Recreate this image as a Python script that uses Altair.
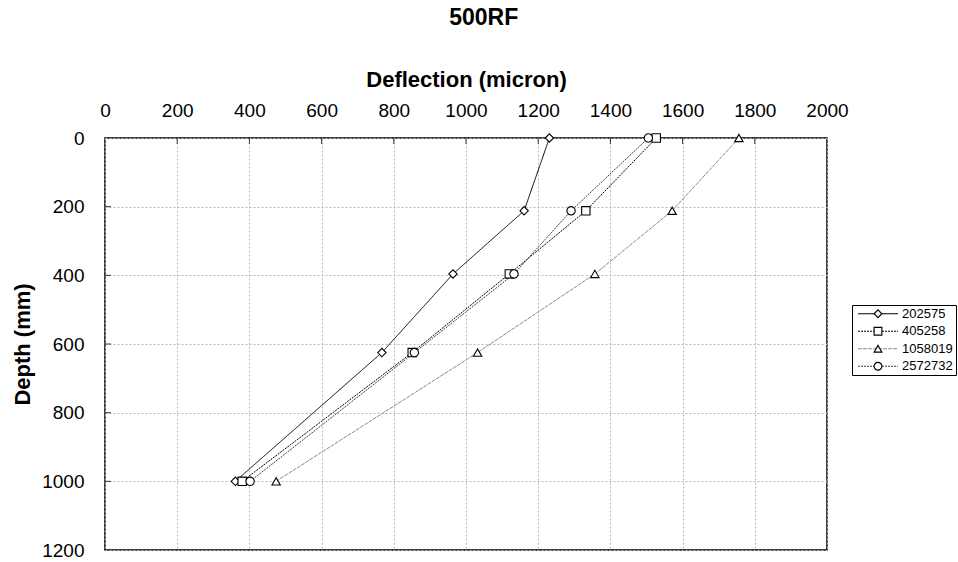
import altair as alt
import pandas as pd

# ---- data ----
series_names = ["202575", "405258", "1058019", "2572732"]
depth_mm = [0, 212, 396, 625, 1000]
defl_202575 = [1231, 1161, 964, 767, 361]
defl_405258 = [1527, 1332, 1120, 851, 380]
defl_1058019 = [1756, 1571, 1357, 1032, 474]
defl_2572732 = [1505, 1291, 1133, 857, 402]
x_tick_values = [0, 200, 400, 600, 800, 1000, 1200, 1400, 1600, 1800, 2000]
y_tick_values = [0, 200, 400, 600, 800, 1000, 1200]

rows = []
for name, vals in zip(series_names, [defl_202575, defl_405258, defl_1058019, defl_2572732]):
    for d, v in zip(depth_mm, vals):
        rows.append({"series": name, "depth": d, "deflection": v})
df = pd.DataFrame(rows)

FONT = "Liberation Sans"
line_colors = ["#000000", "#000000", "#8a8a8a", "#404040"]
line_dashes = [[1, 0], [2, 1], [4, 1], [2, 1]]
shapes = ["diamond", "square", "triangle-up", "circle"]

color_enc = alt.Color("series:N", scale=alt.Scale(domain=series_names, range=line_colors), legend=None)
dash_enc = alt.StrokeDash("series:N", scale=alt.Scale(domain=series_names, range=line_dashes), legend=None)
shape_enc = alt.Shape("series:N", scale=alt.Scale(domain=series_names, range=shapes), legend=None)

xscale = alt.Scale(domain=[0, 2000], nice=False, zero=False)
yscale = alt.Scale(domain=[0, 1200], reverse=True, nice=False, zero=False)

x_axis = alt.Axis(orient="top", values=x_tick_values, title="Deflection (micron)", grid=True, format="d",
                  ticks=False, tickSize=0, domain=False, labelPadding=18, titlePadding=10,
                  gridDash=[2, 2], gridColor="#b8b8b8", labelFlush=False)
y_axis = alt.Axis(orient="left", values=y_tick_values, title="Depth (mm)", grid=True, format="d",
                  ticks=False, tickSize=0, domain=False, labelPadding=21, titlePadding=7,
                  gridDash=[2, 2], gridColor="#b8b8b8", labelFlush=False)

X = alt.X("deflection:Q", scale=xscale, axis=x_axis, title="Deflection (micron)")
Y = alt.Y("depth:Q", scale=yscale, axis=y_axis, title="Depth (mm)")

base = alt.Chart(df)
lines = base.mark_line(strokeWidth=1).encode(
    x=X, y=Y, color=color_enc, strokeDash=dash_enc, detail="series:N", order="depth:Q"
)
points = base.mark_point(filled=True, fill="white", stroke="black", strokeWidth=1.1,
                         size=70, opacity=1, fillOpacity=1).encode(
    x=X, y=Y, shape=shape_enc
)

xt = alt.Chart(pd.DataFrame({"t": x_tick_values[1:-1]})).mark_rule(color="#333333", strokeWidth=1).encode(
    x=alt.X("t:Q", scale=xscale, axis=x_axis, title="Deflection (micron)"),
    y=alt.value(0), y2=alt.value(6)
)
yt = alt.Chart(pd.DataFrame({"t": y_tick_values[1:-1]})).mark_rule(color="#333333", strokeWidth=1).encode(
    y=alt.Y("t:Q", scale=yscale, axis=y_axis, title="Depth (mm)"),
    x=alt.value(0), x2=alt.value(6)
)

main = alt.layer(lines, points, xt, yt).properties(
    width=722, height=412,
    view=alt.ViewBackground(stroke="black", strokeWidth=1.5)
)

# ---- legend panel ----
leg_df = pd.DataFrame({"series": series_names})
leg_y = alt.Y("series:N", sort=series_names,
              scale=alt.Scale(type="point", domain=series_names, padding=0.5), axis=None)
leg_lines = alt.Chart(leg_df).mark_rule(strokeWidth=1).encode(
    x=alt.value(6), x2=alt.value(46), y=leg_y, color=color_enc, strokeDash=dash_enc
)
leg_points = alt.Chart(leg_df).mark_point(filled=True, fill="white", stroke="black", strokeWidth=1.1,
                                          size=60, opacity=1, fillOpacity=1).encode(
    x=alt.value(26), y=leg_y, shape=shape_enc
)
leg_text = alt.Chart(leg_df).mark_text(align="left", baseline="middle", fontSize=13, font=FONT,
                                       color="black").encode(
    x=alt.value(50), y=leg_y, text="series:N"
)
legend = alt.layer(leg_lines, leg_points, leg_text).properties(
    width=104, height=70,
    view=alt.ViewBackground(stroke="black", strokeWidth=1)
)

spacer = alt.Chart(pd.DataFrame({"a": [0]})).mark_point(opacity=0).encode(
    x=alt.value(0), y=alt.value(0)
).properties(width=104, height=166, view=alt.ViewBackground(stroke=None))

chart = alt.hconcat(
    main,
    alt.vconcat(spacer, legend, spacing=0),
    spacing=0
).properties(
    title=alt.TitleParams("500RF", fontSize=23, fontWeight="bold", font=FONT, color="black",
                          anchor="middle", offset=37),
    padding={"left": 10, "top": 7, "right": 0, "bottom": 0},
    background="white"
).configure_axis(
    labelFont=FONT, titleFont=FONT, labelFontSize=19, titleFontSize=22,
    labelColor="black", titleColor="black", titleFontWeight="bold"
).configure_text(font=FONT)

chart.save("out.html", embed_options={"renderer": "svg", "actions": False})
